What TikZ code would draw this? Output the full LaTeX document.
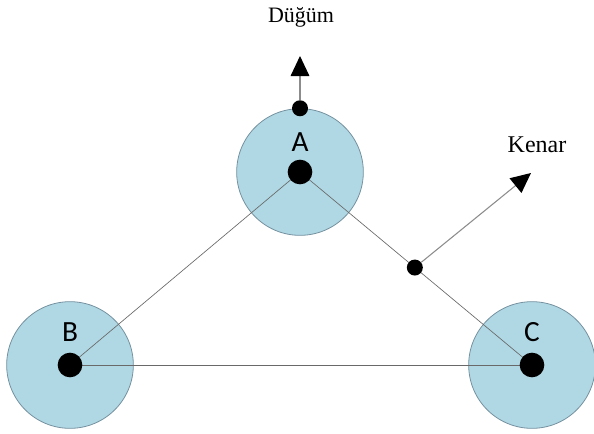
\documentclass[tikz,border=0pt]{standalone}
\usepackage{fontspec}
\setmainfont{Liberation Serif}
\newfontfamily\letterfont{Carlito}
\usetikzlibrary{arrows.meta}
\definecolor{ringblue}{RGB}{176,216,228}
\definecolor{ringline}{RGB}{118,146,160}
\definecolor{edgegray}{RGB}{105,105,105}
\definecolor{pointergray}{RGB}{140,140,140}
\begin{document}
\begin{tikzpicture}[x=0.75pt,y=-0.75pt,
    ring/.style={circle,fill=ringblue,draw=ringline,line width=0.6pt,minimum size=95pt,inner sep=0pt},
    hub/.style={circle,fill=black,minimum size=18.5pt,inner sep=0pt},
    tick/.style={circle,fill=black,minimum size=12pt,inner sep=0pt},
    edge/.style={draw=edgegray,line width=0.5pt},
    pointer/.style={draw=pointergray,line width=0.8pt,-{Triangle[length=15pt,width=14pt,color=black]}},
    letter/.style={font=\letterfont\fontsize{22}{24}\selectfont},
    caption/.style={anchor=base,font=\fontsize{16.5}{18}\selectfont}]
    \useasboundingbox (0,0) rectangle (594,433);

    \node[ring] (A) at (300,172) {}; \node[ring] (B) at (70,365) {}; \node[ring] (C) at (532,365) {};

    \draw[edge] (A.center) to (B.center); \draw[edge] (A.center) to (C.center); \draw[edge] (B.center) to (C.center);

    \node[hub] at (A.center) {}; \node[hub] at (B.center) {}; \node[hub] at (C.center) {};
    \node[letter] at (300,142) {A}; \node[letter] at (70,332) {B}; \node[letter] at (532,332) {C};

    % node pointer
    \node[tick] (top) at (A.north) {};
    \coordinate (nodetip) at (300,56);
    \draw[pointer] (top) to (nodetip);
    \node[caption] at (301,22) {Düğüm};

    % edge pointer
    \path (A.center) -- (C.center) node[tick,pos=0.495] (mid) {};
    \coordinate (edgetip) at (531,173);
    \draw[pointer] (mid) to (edgetip);
    \node[caption,font=\fontsize{18}{20}\selectfont] at (537,152) {Kenar};
\end{tikzpicture}
\end{document}
